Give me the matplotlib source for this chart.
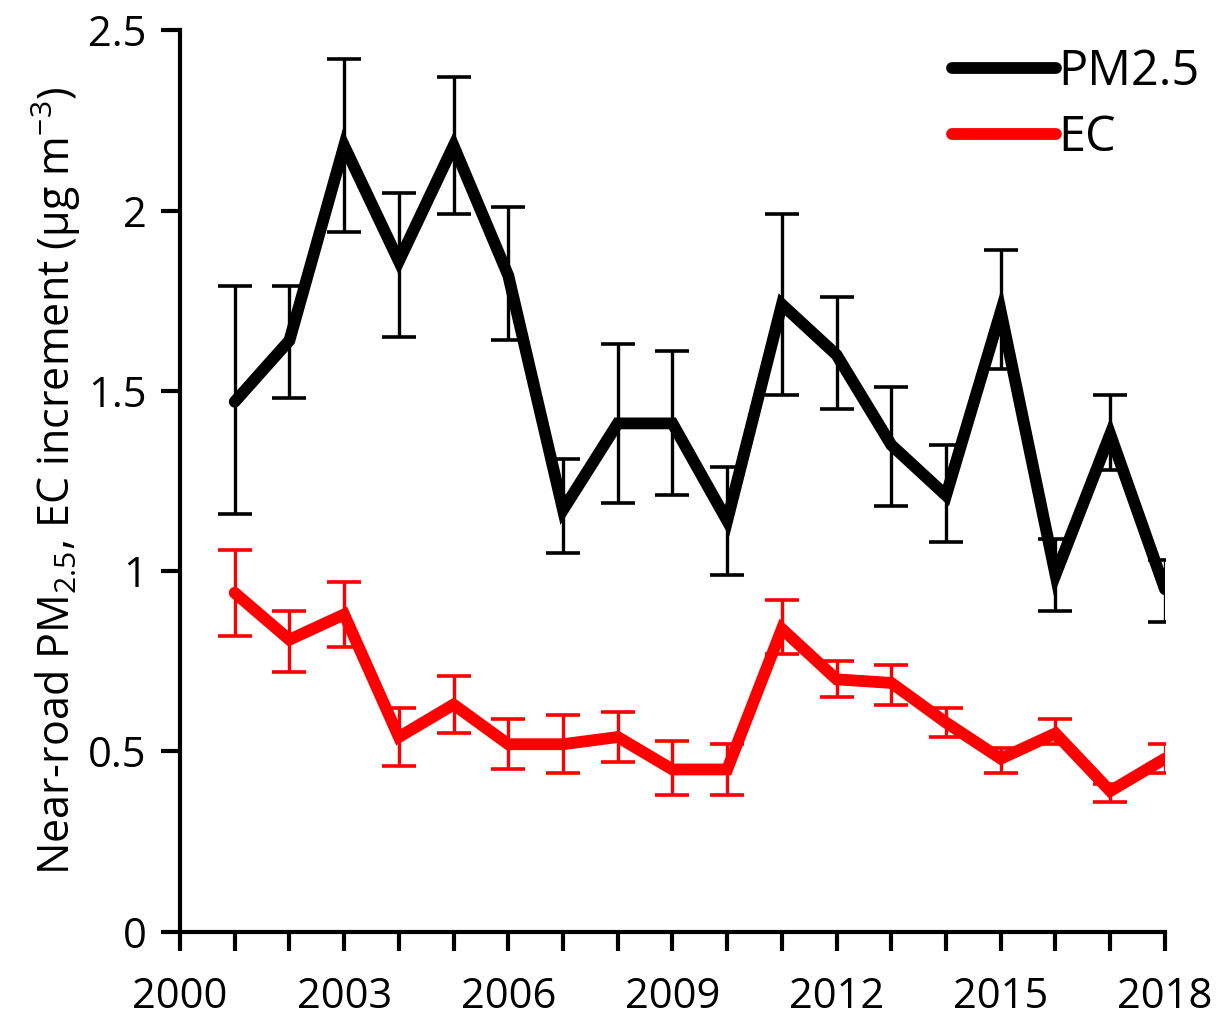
import matplotlib.pyplot as plt

years = list(range(2001, 2019))

pm25 = [1.47, 1.64, 2.18, 1.86, 2.18, 1.82, 1.17, 1.41, 1.41, 1.14, 1.74, 1.60, 1.35, 1.21, 1.72, 0.99, 1.38, 0.95]
pm25_hi = [1.79, 1.79, 2.42, 2.05, 2.37, 2.01, 1.31, 1.63, 1.61, 1.29, 1.99, 1.76, 1.51, 1.35, 1.89, 1.09, 1.49, 1.03]
pm25_lo = [1.16, 1.48, 1.94, 1.65, 1.99, 1.64, 1.05, 1.19, 1.21, 0.99, 1.49, 1.45, 1.18, 1.08, 1.56, 0.89, 1.28, 0.86]

ec = [0.94, 0.81, 0.88, 0.54, 0.63, 0.52, 0.52, 0.54, 0.45, 0.45, 0.84, 0.70, 0.69, 0.58, 0.48, 0.55, 0.39, 0.48]
ec_hi = [1.06, 0.89, 0.97, 0.62, 0.71, 0.59, 0.60, 0.61, 0.53, 0.52, 0.92, 0.75, 0.74, 0.62, 0.51, 0.59, 0.41, 0.52]
ec_lo = [0.82, 0.72, 0.79, 0.46, 0.55, 0.45, 0.44, 0.47, 0.38, 0.38, 0.77, 0.65, 0.63, 0.54, 0.44, 0.52, 0.36, 0.44]

plt.rcParams['font.family'] = ['Open Sans', 'DejaVu Sans']
plt.rcParams['mathtext.default'] = 'regular'

fig = plt.figure(figsize=(12.16, 10.16), dpi=100)
ax = fig.add_axes([0.148, 0.083, 0.81, 0.887])

def draw(y, hi, lo, color, label):
    err = [[v - l for v, l in zip(y, lo)], [h - v for v, h in zip(y, hi)]]
    ax.errorbar(years, y, yerr=err, fmt='none', ecolor=color, elinewidth=2.4,
                capsize=12, capthick=2.6, zorder=2)
    ax.plot(years, y, color=color, lw=8.5, solid_capstyle='round',
            solid_joinstyle='miter', label=label, zorder=3)

draw(pm25, pm25_hi, pm25_lo, 'black', 'PM2.5')
draw(ec, ec_hi, ec_lo, '#ff0000', 'EC')

ax.set_xlim(2000, 2018)
ax.set_ylim(0, 2.5)
ax.set_xticks(range(2000, 2019, 3))
ax.set_xticks(range(2000, 2019), minor=True)
ax.set_yticks([0, 0.5, 1, 1.5, 2, 2.5])
ax.set_yticklabels(['0', '0.5', '1', '1.5', '2', '2.5'])

for s in ['top', 'right']:
    ax.spines[s].set_visible(False)
for s in ['left', 'bottom']:
    ax.spines[s].set_linewidth(3)

ax.tick_params(axis='both', which='both', width=3, labelsize=30)
ax.tick_params(axis='x', which='both', direction='out', length=14, pad=18)
ax.tick_params(axis='y', direction='out', length=14, pad=10)

ax.set_ylabel('Near-road PM$_{2.5}$, EC increment (µg m$^{-3}$)', fontsize=31, labelpad=4)

leg = ax.legend(loc='upper right', frameon=False, fontsize=35, handlelength=2.15,
                handletextpad=0.05, labelspacing=0.35, bbox_to_anchor=(1.08, 1.03))

plt.savefig('out.png', dpi=100)
